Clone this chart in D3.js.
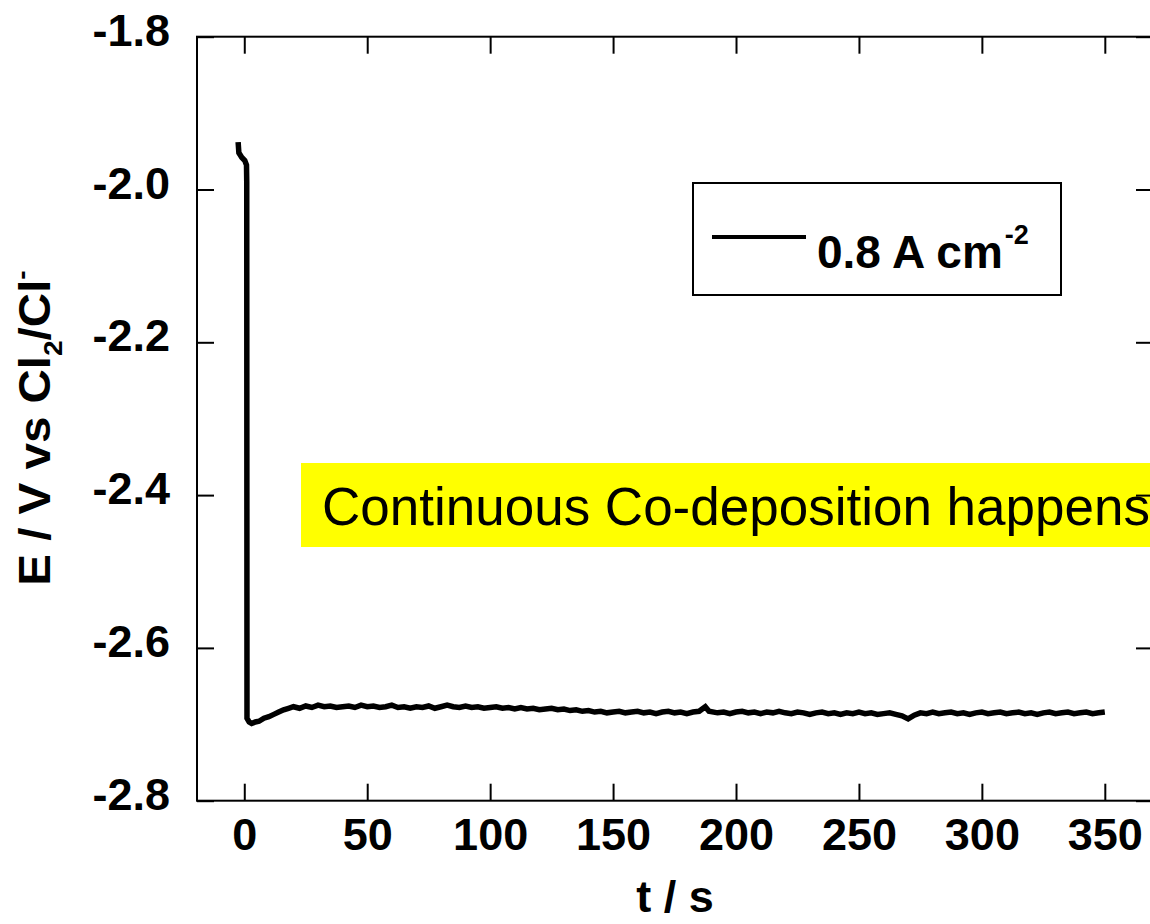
<!DOCTYPE html>
<html><head><meta charset="utf-8">
<script src="https://cdn.jsdelivr.net/npm/d3@7"></script>
<style>
body{margin:0;background:#fff}
svg{display:block;font-family:"Liberation Sans",Arial,sans-serif}
</style>
</head><body>
<svg id="chart" width="1150" height="924"></svg>
<script>
// ---- data ----
const xTicks = [0, 50, 100, 150, 200, 250, 300, 350];
const yTicks = [-2.8, -2.6, -2.4, -2.2, -2.0, -1.8];
const times = [
  -2.5, -2.2, -1.0, 0.2, 0.9, 1.0, 1.1, 2, 3, 4.5, 6, 8, 10, 12, 14, 16, 18,
  20, 22.5, 25, 27.5, 30, 32.5, 35, 37.5, 40, 42.5, 45, 47.5, 50, 52.5, 55, 57.5,
  60, 62.5, 65, 67.5, 70, 72.5, 75, 77.5, 80, 82.5, 85, 87.5, 90, 92.5, 95, 97.5,
  100, 102.5, 105, 107.5, 110, 112.5, 115, 117.5, 120, 122.5, 125, 127.5, 130, 132.5,
  135, 137.5, 140, 142.5, 145, 147.5, 150, 152.5, 155, 157.5, 160, 162.5, 165, 167.5,
  170, 172.5, 175, 177.5, 180, 182.5, 185, 187.5, 189, 192.5, 195, 197.5, 200, 202.5,
  205, 207.5, 210, 212.5, 215, 217.5, 220, 222.5, 225, 227.5, 230, 232.5, 235, 237.5,
  240, 242.5, 245, 247.5, 250, 252.5, 255, 257.5, 260, 262.5, 265, 267.5, 270, 272.5,
  275, 277.5, 280, 282.5, 285, 287.5, 290, 292.5, 295, 297.5, 300, 302.5, 305, 307.5,
  310, 312.5, 315, 317.5, 320, 322.5, 325, 327.5, 330, 332.5, 335, 337.5, 340, 342.5,
  345, 347.5, 350
];
const potentials = [
  -1.938, -1.952, -1.958, -1.962, -1.968, -1.990, -2.692, -2.697, -2.699, -2.697, -2.696, -2.692, -2.690, -2.687, -2.684, -2.681, -2.679,
  -2.677, -2.679, -2.676, -2.678, -2.675, -2.677, -2.676, -2.678, -2.677, -2.676, -2.678, -2.675, -2.677, -2.676, -2.678, -2.677,
  -2.675, -2.678, -2.677, -2.679, -2.677, -2.678, -2.676, -2.679, -2.677, -2.675, -2.677, -2.678, -2.676, -2.678, -2.677, -2.679,
  -2.678, -2.677, -2.679, -2.678, -2.680, -2.678, -2.680, -2.679, -2.681, -2.680, -2.679, -2.681, -2.680, -2.682,
  -2.681, -2.683, -2.682, -2.684, -2.683, -2.685, -2.684, -2.683, -2.685, -2.684, -2.683, -2.685, -2.684, -2.686,
  -2.684, -2.683, -2.685, -2.684, -2.686, -2.684, -2.683, -2.677, -2.683, -2.685, -2.684, -2.686, -2.684, -2.683,
  -2.685, -2.684, -2.686, -2.684, -2.685, -2.683, -2.685, -2.686, -2.684, -2.685, -2.687, -2.685, -2.684, -2.686,
  -2.685, -2.687, -2.685, -2.686, -2.684, -2.686, -2.685, -2.687, -2.686, -2.685, -2.687, -2.689, -2.693, -2.688,
  -2.685, -2.686, -2.684, -2.686, -2.685, -2.684, -2.686, -2.685, -2.687, -2.685, -2.684, -2.686, -2.685, -2.684,
  -2.686, -2.685, -2.684, -2.686, -2.685, -2.687, -2.685, -2.684, -2.686, -2.685, -2.684, -2.686, -2.685, -2.684,
  -2.686, -2.685, -2.684
];
const legendLabel = "0.8 A cm";
const legendSup = "-2";
const annotationText = "Continuous Co-deposition happens";
const xTitle = "t / s";
const yTitleParts = ["E / V vs Cl", "2", "/Cl", "-"];

// ---- layout ----
const svg = d3.select("#chart");
const x = d3.scaleLinear().domain([-19.23, 369.6]).range([197, 1153]);
const y = d3.scaleLinear().domain([-2.8, -1.8]).range([800.7, 36.7]);
const [x0, x1] = x.range();
const [yb, yt] = y.range();

// annotation (behind the data)
svg.append("rect").attr("x", 301).attr("y", 463).attr("width", 900).attr("height", 84)
  .attr("fill", "#ffff00");
svg.append("text").attr("x", 322).attr("y", 525)
  .attr("font-size", 53).attr("fill", "#000").text(annotationText);

// frame
svg.append("rect").attr("x", x0).attr("y", yt).attr("width", x1 - x0).attr("height", yb - yt)
  .attr("fill", "none").attr("stroke", "#000").attr("stroke-width", 2);

const tickLen = 17;
function styleAxis(g) {
  g.select(".domain").remove();
  g.selectAll(".tick line").attr("stroke", "#000").attr("stroke-width", 2);
  g.selectAll(".tick text").attr("fill", "#000").attr("font-weight", "bold")
    .attr("font-size", 45).attr("font-family", "'Liberation Sans',Arial,sans-serif");
}
svg.append("g").attr("transform", `translate(0,${yb})`)
  .call(d3.axisBottom(x).tickValues(xTicks).tickSize(-tickLen).tickPadding(17).tickFormat(d => String(d)))
  .call(styleAxis);
svg.append("g").attr("transform", `translate(0,${yt})`)
  .call(d3.axisTop(x).tickValues(xTicks).tickSize(-tickLen).tickFormat(""))
  .call(styleAxis);
svg.append("g").attr("transform", `translate(${x0},0)`)
  .call(d3.axisLeft(y).tickValues(yTicks).tickSize(-tickLen).tickPadding(27).tickFormat(d => d.toFixed(1)))
  .call(styleAxis)
  .call(g => g.selectAll(".tick text").attr("dy", "0.19em"));
svg.append("g").attr("transform", `translate(${x1},0)`)
  .call(d3.axisRight(y).tickValues(yTicks).tickSize(-tickLen).tickFormat(""))
  .call(styleAxis);

// data line
const data = times.map((t, i) => ({t, e: potentials[i]}));
svg.append("path").datum(data)
  .attr("fill", "none").attr("stroke", "#000").attr("stroke-width", 5.5)
  .attr("stroke-linejoin", "miter")
  .attr("d", d3.line().x(d => x(d.t)).y(d => y(d.e)));

// legend
svg.append("rect").attr("x", 693).attr("y", 183).attr("width", 368).attr("height", 112)
  .attr("fill", "#fff").attr("stroke", "#000").attr("stroke-width", 2);
svg.append("line").attr("x1", 712).attr("x2", 806).attr("y1", 237).attr("y2", 237)
  .attr("stroke", "#000").attr("stroke-width", 4);
const lt = svg.append("text").attr("x", 817).attr("y", 268)
  .attr("font-size", 46).attr("font-weight", "bold").attr("fill", "#000");
lt.append("tspan").text(legendLabel);
lt.append("tspan").attr("font-size", 27).attr("dy", -24).attr("dx", 2).text(legendSup);

// axis titles
svg.append("text").attr("x", (x0 + x1) / 2).attr("y", 912).attr("text-anchor", "middle")
  .attr("font-size", 45).attr("font-weight", "bold").attr("fill", "#000").text(xTitle);

const yt_g = svg.append("g").attr("transform", "translate(50,428) rotate(-90) scale(1.08,1)");
const ytt = yt_g.append("text").attr("text-anchor", "middle")
  .attr("font-size", 44).attr("font-weight", "bold").attr("fill", "#000");
ytt.append("tspan").text(yTitleParts[0]);
ytt.append("tspan").attr("font-size", 26).attr("dy", 12).text(yTitleParts[1]);
ytt.append("tspan").attr("dy", -12).text(yTitleParts[2]);
ytt.append("tspan").attr("font-size", 26).attr("dy", -20).text(yTitleParts[3]);
</script>
</body></html>
